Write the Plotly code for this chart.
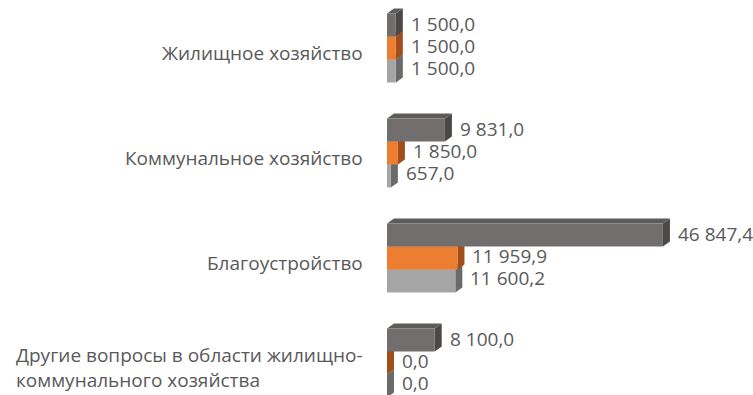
import plotly.graph_objects as go

# Data: spending by section (тыс. руб.), three series per section
categories = [
    "Жилищное хозяйство",
    "Коммунальное хозяйство",
    "Благоустройство",
    "Другие вопросы в области жилищно-<br>коммунального хозяйства",
]
series_dark = [1500.0, 9831.0, 46847.4, 8100.0]
series_orange = [1500.0, 1850.0, 11959.9, 0.0]
series_light = [1500.0, 657.0, 11600.2, 0.0]

# Figure geometry
W, H = 753, 395
MARGIN_L = 387
X_MAX = 62140
Y_TOP, Y_BOTTOM = -0.457, 3.305
BAR_W = 0.219
DEPTH_PX = (7, 5)

FONT = "Open Sans"
TEXT_COLOR = "#595959"
FONT_SIZE = 19

# (values, front, side, top, label lift) in top-to-bottom order within a group
series = [
    (series_dark, "#726e6e", "#4b4848", "#5e5b5b", 1),
    (series_orange, "#ed7d31", "#a04e1a", "#c2621f", 2),
    (series_light, "#a5a5a5", "#6a6a6a", "#8a8a8a", 3),
]

px_x = (W - MARGIN_L) / X_MAX
px_y = H / (Y_BOTTOM - Y_TOP)
dx = DEPTH_PX[0] / px_x
dy = DEPTH_PX[1] / px_y


def fmt(v):
    return f"{v:,.1f}".replace(",", " ").replace(".", ",")


fig = go.Figure()
shapes = []
annotations = []

n = len(series)
# draw lower series first so the upper bars cover their hidden faces
for j in reversed(range(n)):
    vals, front, side, top, _lift = series[j]
    ys = [i + (j - (n - 1) / 2) * BAR_W for i in range(len(vals))]
    for v, yc in zip(vals, ys):
        t = yc - BAR_W / 2
        b = yc + BAR_W / 2
        shapes.append(dict(
            type="path", xref="x", yref="y", layer="below",
            path=f"M {v},{t} L {v + dx},{t - dy} L {v + dx},{b - dy} L {v},{b} Z",
            fillcolor=side, line=dict(width=0),
        ))
        shapes.append(dict(
            type="path", xref="x", yref="y", layer="below",
            path=f"M 0,{t} L {dx},{t - dy} L {v + dx},{t - dy} L {v},{t} Z",
            fillcolor=top, line=dict(width=0),
        ))
    fig.add_trace(go.Bar(
        x=vals, y=ys, orientation="h", width=BAR_W,
        marker=dict(color=front, line=dict(width=0)),
        showlegend=False, hoverinfo="x",
    ))

for j, (vals, _f, _s, _t, lift) in enumerate(series):
    for i, v in enumerate(vals):
        yc = i + (j - (n - 1) / 2) * BAR_W
        annotations.append(dict(
            x=v, y=yc, xref="x", yref="y", text=fmt(v),
            xanchor="left", yanchor="middle", xshift=13, yshift=lift,
            showarrow=False, font=dict(family=FONT, size=FONT_SIZE, color=TEXT_COLOR),
        ))

for i, name in enumerate(categories):
    annotations.append(dict(
        x=0, y=i, xref="paper", yref="y", text=name,
        xanchor="right", yanchor="middle", xshift=-22, yshift=-5,
        align="left", showarrow=False,
        font=dict(family=FONT, size=FONT_SIZE, color=TEXT_COLOR),
    ))

fig.update_layout(
    width=W, height=H,
    margin=dict(l=MARGIN_L, r=0, t=0, b=0, pad=0),
    paper_bgcolor="white", plot_bgcolor="white",
    barmode="overlay",
    shapes=shapes, annotations=annotations,
    xaxis=dict(range=[0, X_MAX], showgrid=False, zeroline=False,
               showticklabels=False, showline=False, fixedrange=True),
    yaxis=dict(range=[Y_BOTTOM, Y_TOP], showgrid=False, zeroline=False,
               showticklabels=False, showline=False, fixedrange=True),
    font=dict(family=FONT, color=TEXT_COLOR),
)

fig.write_html("out.html")
